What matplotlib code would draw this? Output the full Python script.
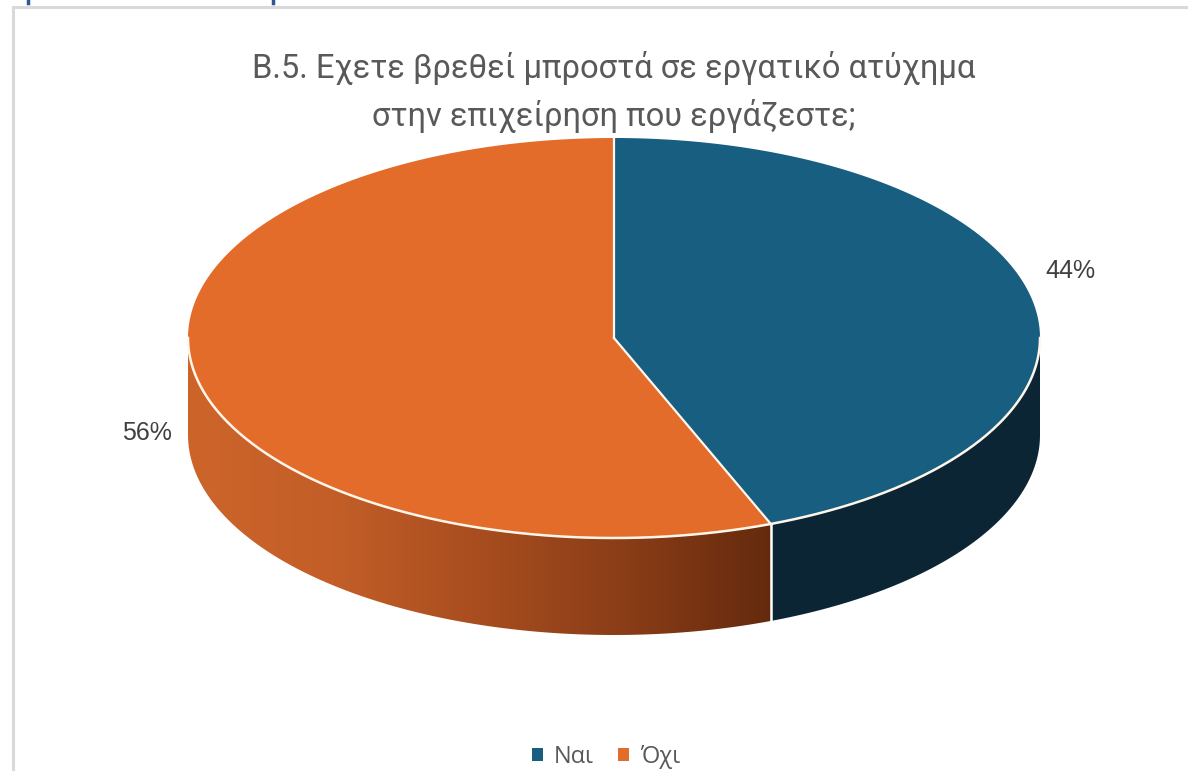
import numpy as np
import matplotlib.pyplot as plt
from matplotlib.patches import Polygon, Patch
from matplotlib.colors import LinearSegmentedColormap

# survey answers (percent)
answers = ['Ναι', 'Όχι']
shares = [44, 56]
top_colors = ['#175E80', '#E46C2B']
side_colors = ['#0C2534', None]   # orange side gets a gradient instead
title = 'Β.5. Εχετε βρεθεί μπροστά σε εργατικό ατύχημα\nστην επιχείρηση που εργάζεστε;'

W, H = 1188, 771
fig = plt.figure(figsize=(W / 100, H / 100), dpi=100)
ax = fig.add_axes([0, 0, 1, 1])
ax.set_xlim(0, W)
ax.set_ylim(H, 0)
ax.axis('off')

# pie geometry in pixel units (y grows downwards)
cx, cy = 614, 338
ra, rb = 426, 200
depth = 97


def rim(t, drop=0):
    return np.column_stack([cx + ra * np.sin(t), cy - rb * np.cos(t) + drop])


fr = np.array(shares) / sum(shares)
edges = np.concatenate([[0], np.cumsum(fr)]) * 2 * np.pi

# --- side walls (only the front half, pi/2 .. 3pi/2, is visible) ---
for i in range(len(shares)):
    t0 = max(edges[i], np.pi / 2)
    t1 = min(edges[i + 1], 3 * np.pi / 2)
    if t1 <= t0:
        continue
    t = np.linspace(t0, t1, 200)
    pts = np.vstack([rim(t), rim(t[::-1], depth)])
    if side_colors[i] is not None:
        ax.add_patch(Polygon(pts, closed=True, fc=side_colors[i], ec='none', zorder=2))
    else:
        poly = Polygon(pts, closed=True, fc='none', ec='none', zorder=2)
        ax.add_patch(poly)
        cmap = LinearSegmentedColormap.from_list(
            'side', ['#CD652B', '#C35E28', '#A84D1F', '#8A3D17', '#652A0E'])
        grad = np.linspace(0, 1, 256).reshape(1, -1)
        x0, x1 = pts[:, 0].min(), pts[:, 0].max()
        y0, y1 = pts[:, 1].min(), pts[:, 1].max()
        im = ax.imshow(grad, cmap=cmap, extent=(x0, x1, y1, y0), aspect='auto', zorder=2)
        im.set_clip_path(poly)

# white seam on the side where the slices meet
for e in edges[1:-1]:
    if np.pi / 2 < e < 3 * np.pi / 2:
        p = rim(np.array([e, e]), np.array([0, depth]))
        ax.plot(p[:, 0], p[:, 1], color='white', lw=1.8, zorder=3)

# --- top face ---
for i in range(len(shares)):
    t = np.linspace(edges[i], edges[i + 1], 300)
    pts = np.vstack([[cx, cy], rim(t)])
    ax.add_patch(Polygon(pts, closed=True, fc=top_colors[i], ec='none', zorder=4))

for e in edges[:-1]:
    p = np.vstack([[cx, cy], rim(np.array([e]))])
    ax.plot(p[:, 0], p[:, 1], color='#FFF8EE', lw=1.6, zorder=5)

front = rim(np.linspace(np.pi / 2, 3 * np.pi / 2, 300))
ax.plot(front[:, 0], front[:, 1], color='#FFF6EA', lw=1.8, zorder=5)

# --- percentage labels ---
lab_k = [1.09, 1.115]
lab_dy = [-30, 58]
for i in range(len(shares)):
    mid = (edges[i] + edges[i + 1]) / 2
    x = cx + ra * lab_k[i] * np.sin(mid)
    y = cy - rb * np.cos(mid) + lab_dy[i]
    ax.text(x, y, f'{shares[i]}%', ha='center', va='center', fontsize=18,
            color='#404040', family='Liberation Sans', zorder=6)

ax.text(cx, 92, title, ha='center', va='center', fontsize=23.5, color='#595959',
        family='Roboto', linespacing=1.5)

# frame of the chart area and bits of the heading above it
ax.plot([13, 13, W], [H, 7, 7], color='#D9D9D9', lw=2.2, solid_joinstyle='miter')
for bx in (27.5, 272.5):
    ax.plot([bx, bx], [0, 3], color='#2F5597', lw=2.5)

handles = [Patch(fc=c, ec='none') for c in top_colors]
ax.legend(handles, answers, loc='center', bbox_to_anchor=(606 / W, 1 - 757 / H), ncol=2,
          frameon=False, handlelength=0.5, handleheight=0.5, handletextpad=0.45,
          columnspacing=1.0, prop={'family': 'Open Sans', 'size': 17},
          labelcolor='#595959', borderpad=0)

fig.savefig('out.png', dpi=100)
